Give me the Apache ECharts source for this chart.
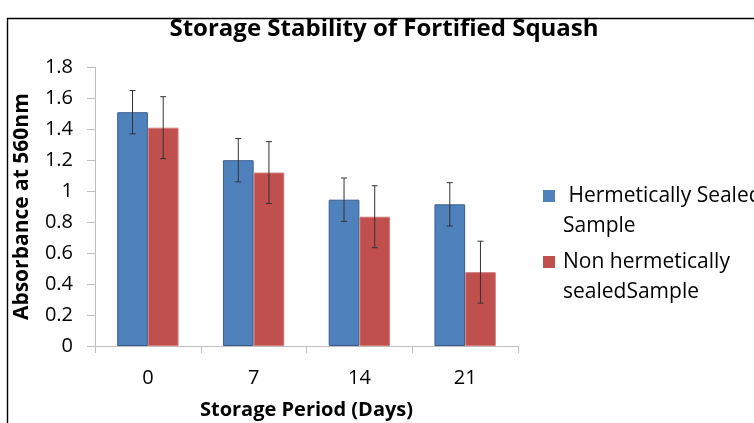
<!DOCTYPE html>
<html><head><meta charset="utf-8">
<script src="https://cdn.jsdelivr.net/npm/echarts@6/dist/echarts.min.js"></script>
<style>html,body{margin:0;padding:0;background:#fff}#c{width:754px;height:423px}</style>
</head><body><div id="c"></div>
<script>
const categories = ['0', '7', '14', '21'];
const sealed = [1.51, 1.20, 0.945, 0.915];
const sealedErr = [0.14, 0.14, 0.14, 0.14];
const nonSealed = [1.41, 1.12, 0.835, 0.477];
const nonSealedErr = [0.20, 0.20, 0.20, 0.20];
const seriesNames = [' Hermetically Sealed Sample', 'Non hermetically sealedSample'];
const legendLabels = [' Hermetically Sealed\nSample', 'Non hermetically\nsealedSample'];
const yTicks = [0, 0.2, 0.4, 0.6, 0.8, 1, 1.2, 1.4, 1.6, 1.8];

const FONT = '"Open Sans", "Liberation Sans", sans-serif';
const BAR_W = 0.29;
const LH = 30;

function errSeries(vals, errs, side) {
  return {
    type: 'custom',
    silent: true,
    z: 10,
    data: vals.map((v, i) => [i, v, errs[i]]),
    renderItem: function (params, api) {
      const i = api.value(0), v = api.value(1), e = api.value(2);
      const band = api.size([1, 0])[0];
      const c = api.coord([i, v]);
      const x = c[0] + side * band * BAR_W / 2;
      const top = api.coord([i, v + e])[1];
      const bot = api.coord([i, v - e])[1];
      const cap = 3;
      const st = { stroke: '#333', lineWidth: 1 };
      return { type: 'group', children: [
        { type: 'line', shape: { x1: x, y1: top, x2: x, y2: bot }, style: st },
        { type: 'line', shape: { x1: x - cap, y1: top, x2: x + cap, y2: top }, style: st },
        { type: 'line', shape: { x1: x - cap, y1: bot, x2: x + cap, y2: bot }, style: st }
      ]};
    }
  };
}

function legendFor(idx, iconCenterY) {
  return {
    orient: 'vertical', left: 543, top: iconCenterY - LH * 1.5, padding: 0,
    itemWidth: 12, itemHeight: 12, icon: 'rect',
    itemStyle: { borderWidth: 0 },
    data: [seriesNames[idx]],
    // leading blank line keeps the first text line level with the swatch
    formatter: function (n) { return '\n' + legendLabels[seriesNames.indexOf(n)]; },
    textStyle: { fontSize: 21, color: '#000', lineHeight: LH, fontFamily: FONT, padding: [0, 0, 0, 3] }
  };
}

const chart = echarts.init(document.getElementById('c'));
chart.setOption({
  animation: false,
  textStyle: { fontFamily: FONT },
  graphic: [{ type: 'rect', shape: { x: 7.5, y: 18.5, width: 900, height: 600 }, style: { fill: 'none', stroke: '#000', lineWidth: 1.4 }, z: -1 }],
  title: { text: 'Storage Stability of Fortified Squash', left: 379, textAlign: 'center', top: 12,
    textStyle: { fontSize: 24, fontWeight: 'bold', color: '#000', fontFamily: FONT } },
  grid: { left: 95, right: 236, top: 67.3, bottom: 77, outerBoundsMode: 'none', containLabel: false },
  legend: [legendFor(0, 196), legendFor(1, 262)],
  xAxis: {
    type: 'category', data: categories,
    name: 'Storage Period (Days)', nameLocation: 'middle', nameGap: 54,
    nameTextStyle: { fontSize: 20, fontWeight: 'bold', color: '#000' },
    axisLine: { lineStyle: { color: '#bfbfbf' } },
    axisTick: { show: true, length: 7, lineStyle: { color: '#bfbfbf' } },
    axisLabel: { fontSize: 20, color: '#000', margin: 22 }
  },
  yAxis: {
    type: 'value', min: 0, max: 1.8, interval: 0.2,
    name: 'Absorbance at 560nm', nameLocation: 'middle', nameGap: 62,
    nameTextStyle: { fontSize: 21, fontWeight: 'bold', color: '#000' },
    axisLine: { show: true, lineStyle: { color: '#bfbfbf' } },
    axisTick: { show: true, length: 8, lineStyle: { color: '#bfbfbf' } },
    splitLine: { show: false },
    axisLabel: { fontSize: 20, color: '#000', margin: 22,
      formatter: function (v) { const t = yTicks.find(k => Math.abs(k - v) < 1e-9); return t === undefined ? '' : String(t); } }
  },
  series: [
    { name: seriesNames[0], type: 'bar', data: sealed, barWidth: (BAR_W * 100) + '%', barGap: '0%',
      itemStyle: { color: '#4f81bd', borderColor: '#385d8a', borderWidth: 1 } },
    { name: seriesNames[1], type: 'bar', data: nonSealed, barWidth: (BAR_W * 100) + '%', barGap: '0%',
      itemStyle: { color: '#c0504d', borderColor: '#d47a78', borderWidth: 1 } },
    errSeries(sealed, sealedErr, -1),
    errSeries(nonSealed, nonSealedErr, 1)
  ]
});
</script></body></html>
